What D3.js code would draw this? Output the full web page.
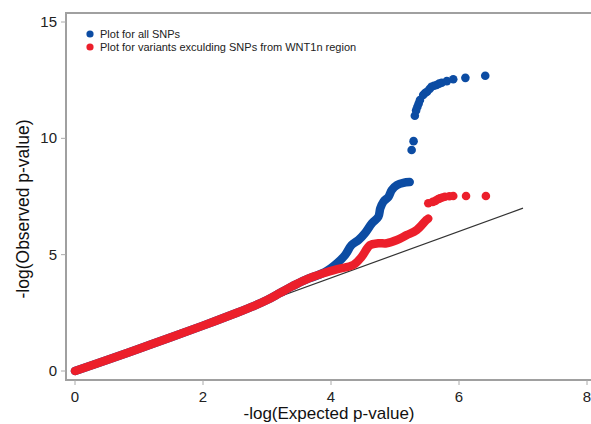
<!DOCTYPE html>
<html>
<head>
<meta charset="utf-8">
<script src="https://cdn.jsdelivr.net/npm/d3@7"></script>
<style>
  body { margin: 0; background: #fff; }
  text { font-family: "Liberation Sans", Arial, sans-serif; }
</style>
</head>
<body>
<div id="qq"></div>
<script>
// dense part of the all-SNP curve
var allBandExp = [0, 0.5, 1.0, 1.5, 2.0, 2.5, 2.8, 3.0, 3.2, 3.4, 3.6, 3.9, 4.09, 4.22, 4.32, 4.43, 4.53, 4.64, 4.74, 4.77, 4.82, 4.90, 4.95, 5.03, 5.13, 5.23];
var allBandObs = [0, 0.47, 0.96, 1.45, 1.95, 2.47, 2.8, 3.05, 3.35, 3.65, 3.92, 4.24, 4.62, 4.98, 5.41, 5.63, 5.92, 6.35, 6.63, 6.99, 7.28, 7.49, 7.78, 7.99, 8.09, 8.12];
// separate top points
var allTailExp = [5.26, 5.29, 5.31, 5.33, 5.35, 5.37, 5.39, 5.44, 5.47, 5.50, 5.54, 5.57, 5.61, 5.65, 5.69, 5.73, 5.81, 5.91, 6.10, 6.41];
var allTailObs = [9.50, 9.88, 10.97, 11.2, 11.36, 11.5, 11.65, 11.86, 11.95, 12.00, 12.12, 12.22, 12.26, 12.29, 12.35, 12.39, 12.46, 12.54, 12.60, 12.69];

// variants excluding WNT1 region
var exBandExp = [0, 0.5, 1.0, 1.5, 2.0, 2.5, 2.8, 3.0, 3.2, 3.4, 3.6, 3.88, 4.1, 4.35, 4.48, 4.61, 4.74, 4.87, 5.03, 5.18, 5.34, 5.49, 5.52];
var exBandObs = [0, 0.47, 0.96, 1.45, 1.95, 2.47, 2.8, 3.05, 3.35, 3.65, 3.92, 4.2, 4.38, 4.56, 4.91, 5.41, 5.49, 5.49, 5.63, 5.84, 6.06, 6.49, 6.55];
var exTailExp = [5.52, 5.59, 5.63, 5.67, 5.70, 5.74, 5.78, 5.85, 5.91, 6.11, 6.42];
var exTailObs = [7.21, 7.27, 7.31, 7.38, 7.42, 7.46, 7.49, 7.51, 7.52, 7.52, 7.52];

var refLine = [0, 7];
var xTicks = [0, 2, 4, 6, 8];
var yTicks = [0, 5, 10, 15];
var legendLabels = ["Plot for all SNPs", "Plot for variants exculding SNPs from WNT1n region"];

var blue = "#0c4ca3";
var red = "#ec1f2b";

var svgWidth = 591;
var svgHeight = 424;

var svg = d3.select("#qq")
    .append("svg")
    .attr("width", svgWidth)
    .attr("height", svgHeight);

var xScale = d3.scaleLinear().domain([0, 8]).range([75, 587]);
var yScale = d3.scaleLinear().domain([0, 15]).range([371, 22]);

var frameLeft = 66, frameTop = 13, frameBottom = 380;

// frame
svg.append("path")
    .attr("d", `M${svgWidth},${frameTop}H${frameLeft}V${frameBottom}H${svgWidth}`)
    .attr("fill", "none")
    .attr("stroke", "#a0a0a0")
    .attr("stroke-width", 2);

// ticks
svg.selectAll(".xtick")
    .data(xTicks)
    .enter()
    .append("line")
    .attr("x1", d => xScale(d))
    .attr("x2", d => xScale(d))
    .attr("y1", frameBottom)
    .attr("y2", frameBottom + 5)
    .attr("stroke", "#aaa");

svg.selectAll(".xlab")
    .data(xTicks)
    .enter()
    .append("text")
    .attr("x", d => xScale(d))
    .attr("y", 402)
    .attr("text-anchor", "middle")
    .attr("font-size", 15)
    .attr("fill", "#222")
    .text(d => d);

svg.selectAll(".ytick")
    .data(yTicks)
    .enter()
    .append("line")
    .attr("x1", frameLeft - 5)
    .attr("x2", frameLeft)
    .attr("y1", d => yScale(d))
    .attr("y2", d => yScale(d))
    .attr("stroke", "#aaa");

svg.selectAll(".ylab")
    .data(yTicks)
    .enter()
    .append("text")
    .attr("x", 57)
    .attr("y", d => yScale(d) + 5)
    .attr("text-anchor", "end")
    .attr("font-size", 15)
    .attr("fill", "#222")
    .text(d => d);

// axis titles
svg.append("text")
    .attr("x", 329)
    .attr("y", 419)
    .attr("text-anchor", "middle")
    .attr("font-size", 17)
    .attr("fill", "#111")
    .text("-log(Expected p-value)");

svg.append("text")
    .attr("transform", "translate(29, 209) rotate(-90)")
    .attr("text-anchor", "middle")
    .attr("font-size", 17.5)
    .attr("fill", "#111")
    .text("-log(Observed p-value)");

// expected line
svg.append("line")
    .attr("x1", xScale(refLine[0]))
    .attr("y1", yScale(refLine[0]))
    .attr("x2", xScale(refLine[1]))
    .attr("y2", yScale(refLine[1]))
    .attr("stroke", "#333")
    .attr("stroke-width", 1.2);

var line = d3.line()
    .x(d => xScale(d[0]))
    .y(d => yScale(d[1]))
    .curve(d3.curveCatmullRom);

function drawSeries(bandX, bandY, tailX, tailY, color) {
    var band = bandX.map((x, i) => [x, bandY[i]]);
    var tail = tailX.map((x, i) => [x, tailY[i]]);
    svg.append("path")
        .datum(band)
        .attr("d", line)
        .attr("fill", "none")
        .attr("stroke", color)
        .attr("stroke-width", 8.5)
        .attr("stroke-linecap", "round")
        .attr("stroke-linejoin", "round");
    svg.append("g")
        .selectAll("circle")
        .data(tail)
        .enter()
        .append("circle")
        .attr("cx", d => xScale(d[0]))
        .attr("cy", d => yScale(d[1]))
        .attr("r", 4.3)
        .attr("fill", color);
}

drawSeries(allBandExp, allBandObs, allTailExp, allTailObs, blue);
drawSeries(exBandExp, exBandObs, exTailExp, exTailObs, red);

// legend
var legend = svg.append("g");
legend.selectAll("circle")
    .data(legendLabels)
    .enter()
    .append("circle")
    .attr("cx", 90)
    .attr("cy", (d, i) => 34 + i * 13)
    .attr("r", 3.6)
    .attr("fill", (d, i) => i == 0 ? blue : red);

legend.selectAll("text")
    .data(legendLabels)
    .enter()
    .append("text")
    .attr("x", 100)
    .attr("y", (d, i) => 38 + i * 13)
    .attr("font-size", 11)
    .attr("fill", "#222")
    .text(d => d);
</script>
</body>
</html>
